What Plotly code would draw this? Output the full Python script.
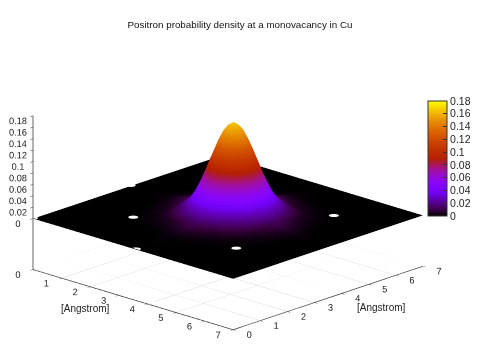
import math
import plotly.graph_objects as go

title_text = "Positron probability density at a monovacancy in Cu"
axis_label = "[Angstrom]"

x_angstrom = [0.0, 0.36, 0.72, 1.08, 1.44, 1.8, 2.16,
              2.52, 2.70, 2.88, 3.06, 3.24, 3.42, 3.6, 3.78, 3.96, 4.14, 4.32, 4.50, 4.68,
              5.04, 5.4, 5.76, 6.12, 6.48, 6.84, 7.0]
y_angstrom = list(x_angstrom)

# probability density in units of 0.001
density_milli = [
    [0,0,0,0,0,0,0,0,0,0,0,0,0,0,0,0,0,0,0,0,0,0,0,0,0,0,0],
    [0,0,0,0,0,0,0,0,0,0,0,0,0,0,0,0,0,0,0,0,0,0,0,0,0,0,0],
    [0,0,0,0,0,0,0,0,0,0,0,0,0,1,0,0,0,0,0,0,0,0,0,0,0,0,0],
    [0,0,0,0,0,0,0,0,0,0,0,0,1,1,1,0,0,0,0,0,0,0,0,0,0,0,0],
    [0,0,0,0,0,0,0,0,1,1,1,2,2,3,2,2,1,1,1,0,0,0,0,0,0,0,0],
    [0,0,0,0,0,0,1,2,2,3,4,5,6,8,6,5,4,3,2,2,1,0,0,0,0,0,0],
    [0,0,0,0,0,1,2,4,5,6,8,10,12,14,12,10,8,6,5,4,2,1,0,0,0,0,0],
    [0,0,0,0,0,2,4,9,13,19,24,28,32,33,32,28,24,19,13,9,4,2,0,0,0,0,0],
    [0,0,0,0,1,2,5,13,20,27,36,46,52,54,52,46,36,27,20,13,5,2,1,0,0,0,0],
    [0,0,0,0,1,3,6,19,27,39,54,68,77,81,77,68,54,39,27,19,6,3,1,0,0,0,0],
    [0,0,0,0,1,4,8,24,36,54,74,93,106,111,106,93,74,54,36,24,8,4,1,0,0,0,0],
    [0,0,0,0,2,5,10,28,46,68,93,116,133,139,133,116,93,68,46,28,10,5,2,0,0,0,0],
    [0,0,0,1,2,6,12,32,52,77,106,133,152,159,152,133,106,77,52,32,12,6,2,1,0,0,0],
    [0,0,1,1,3,8,14,33,54,81,111,139,159,166,159,139,111,81,54,33,14,8,3,1,1,0,0],
    [0,0,0,1,2,6,12,32,52,77,106,133,152,159,152,133,106,77,52,32,12,6,2,1,0,0,0],
    [0,0,0,0,2,5,10,28,46,68,93,116,133,139,133,116,93,68,46,28,10,5,2,0,0,0,0],
    [0,0,0,0,1,4,8,24,36,54,74,93,106,111,106,93,74,54,36,24,8,4,1,0,0,0,0],
    [0,0,0,0,1,3,6,19,27,39,54,68,77,81,77,68,54,39,27,19,6,3,1,0,0,0,0],
    [0,0,0,0,1,2,5,13,20,27,36,46,52,54,52,46,36,27,20,13,5,2,1,0,0,0,0],
    [0,0,0,0,0,2,4,9,13,19,24,28,32,33,32,28,24,19,13,9,4,2,0,0,0,0,0],
    [0,0,0,0,0,1,2,4,5,6,8,10,12,14,12,10,8,6,5,4,2,1,0,0,0,0,0],
    [0,0,0,0,0,0,1,2,2,3,4,5,6,8,6,5,4,3,2,2,1,0,0,0,0,0,0],
    [0,0,0,0,0,0,0,0,1,1,1,2,2,3,2,2,1,1,1,0,0,0,0,0,0,0,0],
    [0,0,0,0,0,0,0,0,0,0,0,0,1,1,1,0,0,0,0,0,0,0,0,0,0,0,0],
    [0,0,0,0,0,0,0,0,0,0,0,0,0,1,0,0,0,0,0,0,0,0,0,0,0,0,0],
    [0,0,0,0,0,0,0,0,0,0,0,0,0,0,0,0,0,0,0,0,0,0,0,0,0,0,0],
    [0,0,0,0,0,0,0,0,0,0,0,0,0,0,0,0,0,0,0,0,0,0,0,0,0,0,0],
]
density = [[v / 1000 for v in row] for row in density_milli]

atom_x = [0.0, 3.6, 0.0, 1.8, 5.4, 1.8, 5.4]
atom_y = [0.0, 0.0, 3.6, 1.8, 1.8, 5.4, 5.4]

xy_ticks = [0, 1, 2, 3, 4, 5, 6, 7]
z_ticks = [0, 0.02, 0.04, 0.06, 0.08, 0.1, 0.12, 0.14, 0.16, 0.18]
z_labels = ["0", "0.02", "0.04", "0.06", "0.08", "0.1", "0.12", "0.14", "0.16", "0.18"]
z_floor = -0.0891
xy_max = 7.0

colorscale = [
    [0.00, "#000000"], [0.05, "#390040"], [0.10, "#50007f"], [0.15, "#6201b8"],
    [0.20, "#7202f3"], [0.25, "#8004ff"], [0.30, "#8c07f3"], [0.35, "#970bce"],
    [0.40, "#a110a0"], [0.45, "#ab174f"], [0.50, "#b42000"], [0.55, "#bd2b00"],
    [0.60, "#c53700"], [0.65, "#cd4600"], [0.70, "#d55700"], [0.75, "#dd6b00"],
    [0.80, "#e48200"], [0.85, "#ea9c00"], [0.90, "#f2ba00"], [0.95, "#f9db00"],
    [1.00, "#ffff00"],
]

PAGE_MARGIN = 8
FIG_W = 500
FIG_H = 350

def px(value):
    return (value - PAGE_MARGIN) / FIG_W

def py(value):
    return 1 - (value - PAGE_MARGIN) / FIG_H

fig = go.Figure()

gx, gy, gz = [], [], []
for t in xy_ticks:
    gx += [t, t, None, 0, xy_max, None]
    gy += [0, xy_max, None, t, t, None]
    gz += [z_floor, z_floor, None, z_floor, z_floor, None]
fig.add_trace(go.Scatter3d(x=gx, y=gy, z=gz, mode="lines", hoverinfo="skip", showlegend=False,
                           line=dict(color="#dcdcdc", width=1)))

fig.add_trace(go.Surface(
    x=x_angstrom, y=y_angstrom, z=density,
    cmin=0, cmax=0.18, colorscale=colorscale,
    lighting=dict(ambient=1, diffuse=0, specular=0, roughness=1, fresnel=0),
    hoverinfo="skip",
    colorbar=dict(
        x=px(428), xanchor="left", xpad=0, y=py(216), yanchor="bottom", ypad=0,
        len=115, lenmode="pixels", thickness=19, thicknessmode="pixels",
        tickmode="array", tickvals=z_ticks, ticktext=z_labels,
        ticks="inside", ticklen=4, tickcolor="#333333", tickwidth=1,
        outlinecolor="#333333", outlinewidth=1,
        tickfont=dict(family="Liberation Sans", size=10.5, color="#222222"),
    ),
))

# white flat discs at the atom sites
mx, my, mz, mi, mj, mk = [], [], [], [], [], []
n_side = 10
radius = 0.13
for ax, ay in zip(atom_x, atom_y):
    base = len(mx)
    mx.append(ax); my.append(ay); mz.append(0.001)
    for s in range(n_side):
        a = 2 * math.pi * s / n_side
        mx.append(ax + radius * math.cos(a)); my.append(ay + radius * math.sin(a)); mz.append(0.001)
    for s in range(n_side):
        mi.append(base); mj.append(base + 1 + s); mk.append(base + 1 + (s + 1) % n_side)
fig.add_trace(go.Mesh3d(x=mx, y=my, z=mz, i=mi, j=mj, k=mk, color="white", opacity=1,
                        flatshading=True, hoverinfo="skip", showscale=False,
                        lighting=dict(ambient=1, diffuse=0, specular=0, roughness=1, fresnel=0)))

axis_common = dict(
    showgrid=False, zeroline=False, showbackground=False, showspikes=False,
    showline=True, linecolor="#333333", linewidth=1.5, ticks="outside", ticklen=4,
    tickangle=0,
    tickcolor="#333333", tickfont=dict(family="Liberation Sans", size=10.5, color="#222222"),
    autorange=False,
)

fig.update_layout(
    width=FIG_W, height=FIG_H, autosize=False,
    margin=dict(l=0, r=0, t=0, b=0),
    paper_bgcolor="white",
    font=dict(family="Liberation Sans", size=10.5, color="#222222"),
    title=dict(text=title_text, x=px(240), xanchor="center", y=py(25), yanchor="middle",
               font=dict(family="Liberation Sans", size=9.8, color="#111111")),
    annotations=[
        dict(text=axis_label, x=px(85), y=py(316), xref="paper", yref="paper", xanchor="center",
             showarrow=False, font=dict(family="Liberation Sans", size=10)),
        dict(text=axis_label, x=px(381), y=py(315), xref="paper", yref="paper", xanchor="center",
             showarrow=False, font=dict(family="Liberation Sans", size=10)),
    ],
    scene=dict(
        domain=dict(x=[0.0, px(448)], y=[0.0, py(24)]),
        aspectmode="manual", aspectratio=dict(x=1.652, y=1.652, z=0.971),
        camera=dict(projection=dict(type="orthographic"),
                    eye=dict(x=1.216, y=-1.282, z=0.591),
                    up=dict(x=0, y=0, z=1), center=dict(x=0, y=0, z=0)),
        xaxis=dict(axis_common, range=[0, xy_max], tickmode="array", tickvals=xy_ticks,
                   title=dict(text="")),
        yaxis=dict(axis_common, range=[0, xy_max], tickmode="array", tickvals=xy_ticks,
                   title=dict(text="")),
        zaxis=dict(axis_common, range=[z_floor, 0.18], tickmode="array", tickvals=z_ticks,
                   ticktext=z_labels, title=dict(text="")),
    ),
)

fig.write_html("out.html", config=dict(displayModeBar=False))
